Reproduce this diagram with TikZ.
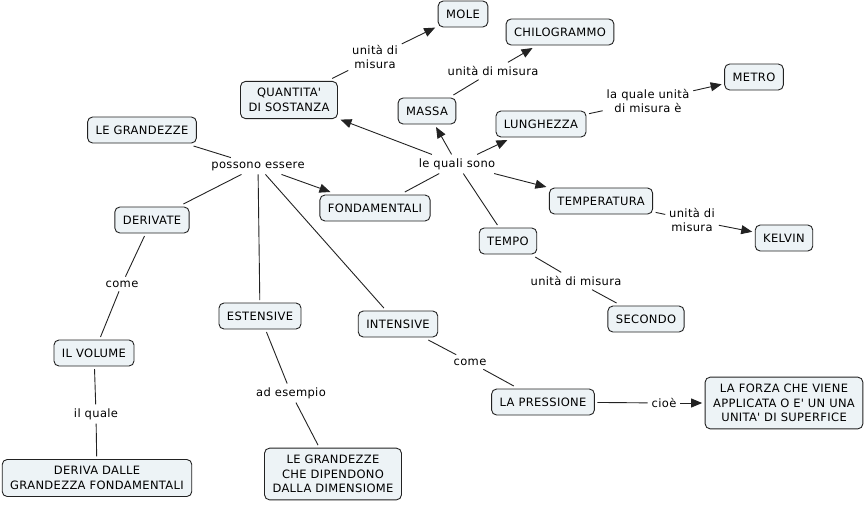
\documentclass[tikz,border=0pt]{standalone}
\usepackage{fontspec}
\setmainfont{DejaVu Sans}[LetterSpace=3]
\usetikzlibrary{arrows.meta}
\definecolor{conceptfill}{HTML}{EDF3F6}
\definecolor{conceptline}{HTML}{222222}
\newcommand{\apos}{\textquotesingle}
\tikzset{
  concept/.style={draw=conceptline, line width=0.9pt, fill=conceptfill, rounded corners=5pt,
    inner xsep=8pt, inner ysep=7pt, minimum height=26pt, align=center,
    outer sep=3pt, font=\fontsize{11.5}{14.5}\selectfont},
  phrase/.style={inner sep=1pt, outer sep=3pt, align=center,
    font=\fontsize{11.5}{14.5}\selectfont},
  link/.style={draw=conceptline, line width=0.9pt},
  linkarrow/.style={link, -{Triangle[length=11pt,width=9pt]}},
}
\begin{document}
\begin{tikzpicture}[x=1pt, y=-1pt]
  \useasboundingbox (0,0) rectangle (867,504);

  \node[concept] (mole) at (463,14) {MOLE};
  \node[concept] (chilo) at (560,32) {CHILOGRAMMO};
  \node[concept] (quant) at (289,100) {QUANTITA\apos\\DI SOSTANZA};
  \node[concept] (massa) at (427,111) {MASSA};
  \node[concept] (metro) at (754,77) {METRO};
  \node[concept] (lungh) at (541,124) {LUNGHEZZA};
  \node[concept] (grand) at (142,130) {LE GRANDEZZE};
  \node[concept] (fond) at (375,208) {FONDAMENTALI};
  \node[concept] (temper) at (601,201) {TEMPERATURA};
  \node[concept] (kelvin) at (784,238) {KELVIN};
  \node[concept] (deriv) at (152,220) {DERIVATE};
  \node[concept] (tempo) at (508,241) {TEMPO};
  \node[concept] (secondo) at (646,319) {SECONDO};
  \node[concept] (estens) at (260,316) {ESTENSIVE};
  \node[concept] (intens) at (398,324) {INTENSIVE};
  \node[concept] (volume) at (94,353) {IL VOLUME};
  \node[concept] (press) at (543,402) {LA PRESSIONE};
  \node[concept] (forza) at (784,403) {LA FORZA CHE VIENE\\APPLICATA O E\apos{} UN UNA\\UNITA\apos{} DI SUPERFICE};
  \node[concept] (dipend) at (333,474) {LE GRANDEZZE\\CHE DIPENDONO\\DALLA DIMENSIOME};
  \node[concept] (derivadalle) at (97,478) {DERIVA DALLE\\GRANDEZZA FONDAMENTALI};

  % frasi di collegamento
  \node[phrase] (umole) at (375,57) {unità di\\misura};
  \node[phrase] (umassa) at (493,71) {unità di misura};
  \node[phrase] (ulungh) at (648,101) {la quale unità\\di misura è};
  \node[phrase] (posso) at (258,166) {possono essere};
  \node[phrase] (quali) at (457,164) {le quali sono};
  \node[phrase] (utemper) at (692,220) {unità di\\misura};
  \node[phrase] (comed) at (122,284) {come};
  \node[phrase] (utempo) at (576,281) {unità di misura};
  \node[phrase] (comei) at (470,362) {come};
  \node[phrase] (esemp) at (291,393) {ad esempio};
  \node[phrase] (quale) at (96,414) {il quale};
  \node[phrase] (cioe) at (664,403) {cioè};

  \draw[link] (grand) -- (posso);
  \draw[linkarrow] (posso) -- (fond);
  \draw[link] (posso) -- (deriv);
  \draw[link] (posso) -- (estens);
  \draw[link] (posso) -- (intens);
  \draw[link] (fond) -- (quali);
  \draw[linkarrow] (quali) -- (quant);
  \draw[linkarrow] (quali) -- (massa);
  \draw[linkarrow] (quali) -- (lungh);
  \draw[linkarrow] (quali) -- (temper);
  \draw[link] (quali) -- (tempo);
  \draw[link] (quant) -- (umole);
  \draw[linkarrow] (umole) -- (mole);
  \draw[link] (massa) -- (umassa);
  \draw[linkarrow] (umassa) -- (chilo);
  \draw[link] (lungh) -- (ulungh);
  \draw[linkarrow] (ulungh) -- (metro);
  \draw[link] (temper) -- (utemper);
  \draw[linkarrow] (utemper) -- (kelvin);
  \draw[link] (tempo) -- (utempo);
  \draw[link] (utempo) -- (secondo);
  \draw[link] (deriv) -- (comed);
  \draw[link] (comed) -- (volume);
  \draw[link] (volume) -- (quale);
  \draw[link] (quale) -- (derivadalle);
  \draw[link] (estens) -- (esemp);
  \draw[link] (esemp) -- (dipend);
  \draw[link] (intens) -- (comei);
  \draw[link] (comei) -- (press);
  \draw[link] (press) -- (cioe);
  \draw[linkarrow] (cioe) -- (forza);
\end{tikzpicture}
\end{document}
